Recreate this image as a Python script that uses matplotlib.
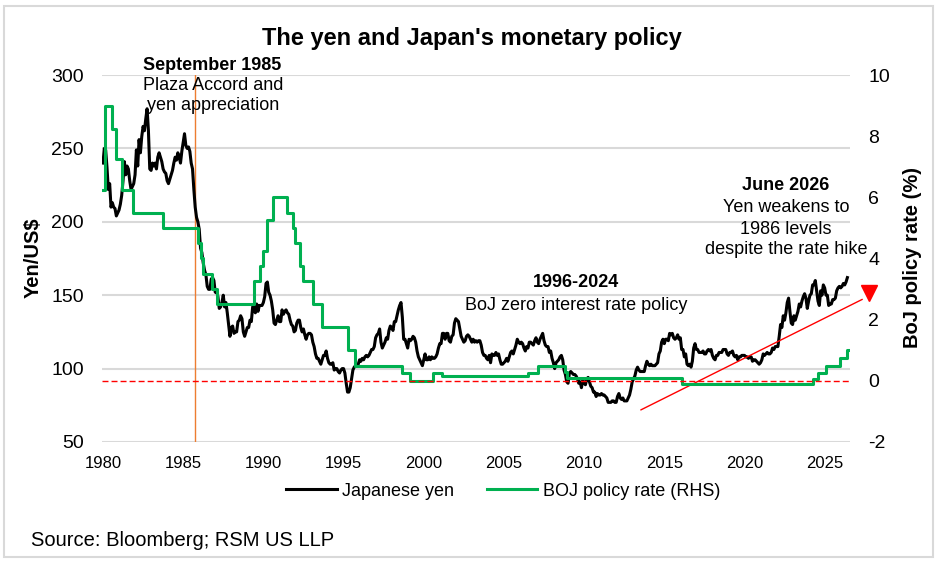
import numpy as np
import matplotlib
matplotlib.use("Agg")
import matplotlib.pyplot as plt
from matplotlib.patches import Rectangle

plt.rcParams['font.family'] = ['Liberation Sans', 'DejaVu Sans']
plt.rcParams['axes.unicode_minus'] = False

# monthly yen per US$, one row per year
yen_1980s = [
    [240, 250, 249, 237, 222, 226, 210, 213, 210, 209, 204, 206],
    [208, 212, 218, 228, 241, 232, 238, 236, 228, 222, 224, 226],
    [232, 249, 238, 256, 247, 258, 265, 262, 270, 277, 262, 236],
    [235, 240, 238, 240, 236, 244, 247, 244, 241, 236, 234, 233],
    [228, 226, 229, 232, 235, 240, 244, 242, 247, 244, 240, 248],
    [254, 260, 252, 250, 251, 248, 240, 236, 222, 210, 203, 200],
    [195, 182, 179, 172, 167, 164, 156, 154, 154, 161, 162, 160],
    [152, 153, 149, 141, 142, 145, 150, 142, 145, 138, 130, 122],
    [128, 129, 124, 125, 125, 132, 133, 136, 134, 125, 122, 125],
    [128, 128, 133, 132, 142, 144, 138, 144, 139, 143, 143, 143],
]
yen_1990s = [
    [145, 149, 158, 159, 152, 150, 146, 140, 131, 130, 133, 136],
    [132, 132, 140, 137, 139, 140, 138, 137, 133, 130, 129, 125],
    [126, 131, 133, 133, 128, 125, 127, 123, 120, 123, 124, 124],
    [123, 118, 115, 110, 107, 107, 105, 103, 106, 109, 109, 112],
    [107, 104, 103, 103, 104, 99, 100, 100, 98, 97, 99, 100],
    [100, 97, 90, 84, 84, 87, 93, 99, 101, 102, 102, 103],
    [106, 105, 107, 106, 108, 109, 108, 109, 111, 113, 113, 115],
    [121, 123, 124, 127, 118, 114, 116, 118, 121, 120, 126, 129],
    [128, 126, 132, 132, 136, 140, 143, 145, 135, 120, 120, 117],
    [114, 120, 119, 120, 122, 121, 118, 112, 108, 106, 104, 102],
]
yen_2000s = [
    [106, 110, 106, 106, 108, 106, 108, 107, 107, 108, 110, 114],
    [117, 117, 124, 124, 120, 124, 124, 119, 118, 122, 123, 131],
    [134, 133, 132, 127, 122, 120, 118, 119, 122, 123, 122, 120],
    [118, 120, 118, 119, 118, 119, 119, 116, 111, 109, 109, 107],
    [106, 109, 104, 110, 109, 109, 111, 109, 110, 106, 103, 103],
    [104, 105, 107, 105, 108, 111, 112, 110, 113, 116, 120, 118],
    [117, 118, 117, 114, 112, 115, 114, 118, 118, 117, 116, 119],
    [121, 118, 117, 120, 122, 124, 119, 116, 115, 115, 111, 112],
    [107, 104, 100, 104, 105, 106, 108, 109, 106, 99, 96, 91],
    [90, 97, 98, 97, 96, 96, 95, 93, 90, 91, 87, 92],
]
yen_2010s = [
    [90, 89, 93, 94, 91, 88, 87, 84, 84, 81, 83, 82],
    [82, 83, 82, 82, 81, 80, 77, 77, 77, 78, 78, 77],
    [77, 81, 83, 80, 79, 80, 78, 78, 78, 80, 82, 86],
    [91, 93, 95, 99, 101, 99, 98, 98, 98, 98, 102, 105],
    [103, 102, 103, 102, 102, 102, 103, 104, 110, 112, 118, 120],
    [117, 120, 120, 119, 124, 123, 124, 121, 120, 121, 123, 120],
    [121, 113, 113, 108, 110, 103, 102, 103, 101, 105, 114, 117],
    [113, 113, 111, 111, 111, 112, 110, 110, 112, 113, 112, 113],
    [109, 107, 106, 109, 109, 111, 111, 111, 113, 113, 113, 110],
    [109, 111, 111, 112, 109, 108, 109, 106, 108, 108, 109, 109],
]
yen_2020s = [
    [109, 108, 108, 107, 108, 108, 105, 106, 106, 105, 104, 103],
    [104, 106, 110, 109, 110, 111, 110, 110, 111, 114, 113, 115],
    [115, 115, 122, 130, 128, 136, 133, 138, 145, 148, 139, 131],
    [130, 136, 133, 136, 139, 144, 142, 146, 149, 151, 148, 141],
    [146, 150, 151, 157, 157, 160, 153, 146, 143, 153, 150, 157],
    [155, 150, 150, 143, 144, 144, 147, 147, 148, 153, 155, 156],
    [155, 156, 158, 157, 159, 162],
]

# BOJ policy rate: date of each change and new level (%)
rate_dates = [1980.0, 1980.13, 1980.55, 1980.82, 1981.17, 1981.86, 1983.75,
              1985.93, 1986.1, 1986.24, 1986.8, 1987.11, 1989.4, 1989.8,
              1990.0, 1990.24, 1990.6, 1991.5, 1991.85, 1991.95, 1992.3,
              1992.5, 1993.1, 1993.64, 1995.3, 1995.7, 1998.65, 1999.15,
              2000.58, 2001.15, 2006.5, 2007.1, 2008.8, 2008.95, 2016.1,
              2024.25, 2024.6, 2025.1, 2025.95, 2026.4]
rate_values = [6.25, 9.0, 8.25, 7.25, 6.25, 5.5, 5.0,
               4.5, 4.0, 3.5, 3.0, 2.5, 3.25, 3.75,
               4.25, 5.25, 6.0, 5.5, 5.0, 4.5, 3.75,
               3.25, 2.5, 1.75, 1.0, 0.5, 0.25, 0.0,
               0.25, 0.15, 0.25, 0.5, 0.3, 0.1, -0.1,
               0.05, 0.25, 0.5, 0.75, 1.0]
rate_end = 2026.5

plaza_date = 1985.72
arrow_start = (2013.38, 71)
arrow_end = (2027.5, 148)
arrow_head = (2027.74, 151.7)

yen = np.concatenate([np.ravel(yen_1980s), np.ravel(yen_1990s), np.ravel(yen_2000s),
                      np.ravel(yen_2010s), np.concatenate(yen_2020s)])
yen_dates = 1980 + np.arange(len(yen)) / 12.0

W, H = 937, 568
fig = plt.figure(figsize=(W / 100, H / 100), dpi=100)
ax = fig.add_axes([101.7 / W, 1 - 442 / H, (850 - 101.7) / W, (442 - 75) / H])
ax2 = ax.twinx()


def px(x, y):
    return x / W, 1 - y / H


ax.plot(yen_dates, yen, color='black', lw=2.2, label='Japanese yen', zorder=3)
ax.axvline(plaza_date, color='#ED7D31', lw=1, zorder=2)

ax2.plot(np.append(rate_dates, rate_end), np.append(rate_values, rate_values[-1]),
         drawstyle='steps-post', color='#00B050', lw=2.2, label='BOJ policy rate (RHS)')
ax2.axhline(0, color='#FF0000', lw=1, ls=(0, (4.3, 2.2)))

ax.annotate('', xy=arrow_end, xytext=arrow_start,
            arrowprops=dict(arrowstyle='-', color='#FF0000', lw=1),
            annotation_clip=False)
ax.plot(*arrow_head, marker='v', ms=12, color='#FF0000', clip_on=False)

ax.set_xlim(1979.92, 2026.58)
ax.set_ylim(50, 300)
ax2.set_ylim(-2, 10)
ax.set_xticks(range(1980, 2026, 5))
ax.set_yticks(range(50, 301, 50))
ax2.set_yticks(range(-2, 11, 2))
ax.grid(axis='y', color='#D9D9D9', lw=1.5)
ax.set_axisbelow(True)
for a in (ax, ax2):
    for s in a.spines.values():
        s.set_visible(False)
ax.tick_params(axis='x', length=0, pad=10, labelsize=12)
ax.tick_params(axis='y', length=0, pad=13, labelsize=14)
ax2.tick_params(axis='y', length=0, pad=13, labelsize=14)

fig.text(*px(33, 258), 'Yen/US$', rotation=90, ha='center', va='center',
         fontsize=14.5, weight='bold')
fig.text(*px(913, 258), 'BoJ policy rate (%)', rotation=90, ha='center', va='center',
         fontsize=14.5, weight='bold')

fig.text(*px(472, 39), "The yen and Japan's monetary policy", ha='center', va='center',
         fontsize=17, weight='bold')

notes = [
    (212.5, 66, 'September 1985', 'bold'),
    (213, 86, 'Plaza Accord and', 'normal'),
    (213, 106, 'yen appreciation', 'normal'),
    (576, 283, '1996-2024', 'bold'),
    (576, 305, 'BoJ zero interest rate policy', 'normal'),
    (786, 185, 'June 2026', 'bold'),
    (786, 207, 'Yen weakens to', 'normal'),
    (786, 229, '1986 levels', 'normal'),
    (786, 250, 'despite the rate hike', 'normal'),
]
for x, y, s, w in notes:
    fig.text(*px(x, y), s, ha='center', va='center', fontsize=13, weight=w)

h1, l1 = ax.get_legend_handles_labels()
h2, l2 = ax2.get_legend_handles_labels()
fig.legend(h1 + h2, l1 + l2, loc='center', bbox_to_anchor=px(503, 491), ncol=2,
           frameon=False, fontsize=13, handlelength=2.8, handletextpad=0.3,
           columnspacing=1.8)

fig.text(*px(31, 540), 'Source: Bloomberg; RSM US LLP', ha='left', va='center', fontsize=14.5)

fig.add_artist(Rectangle(px(4, 557), (933 - 4) / W, (557 - 6) / H, transform=fig.transFigure,
                         fill=False, ec='#D9D9D9', lw=1.5))

fig.savefig('out.png', dpi=100)
